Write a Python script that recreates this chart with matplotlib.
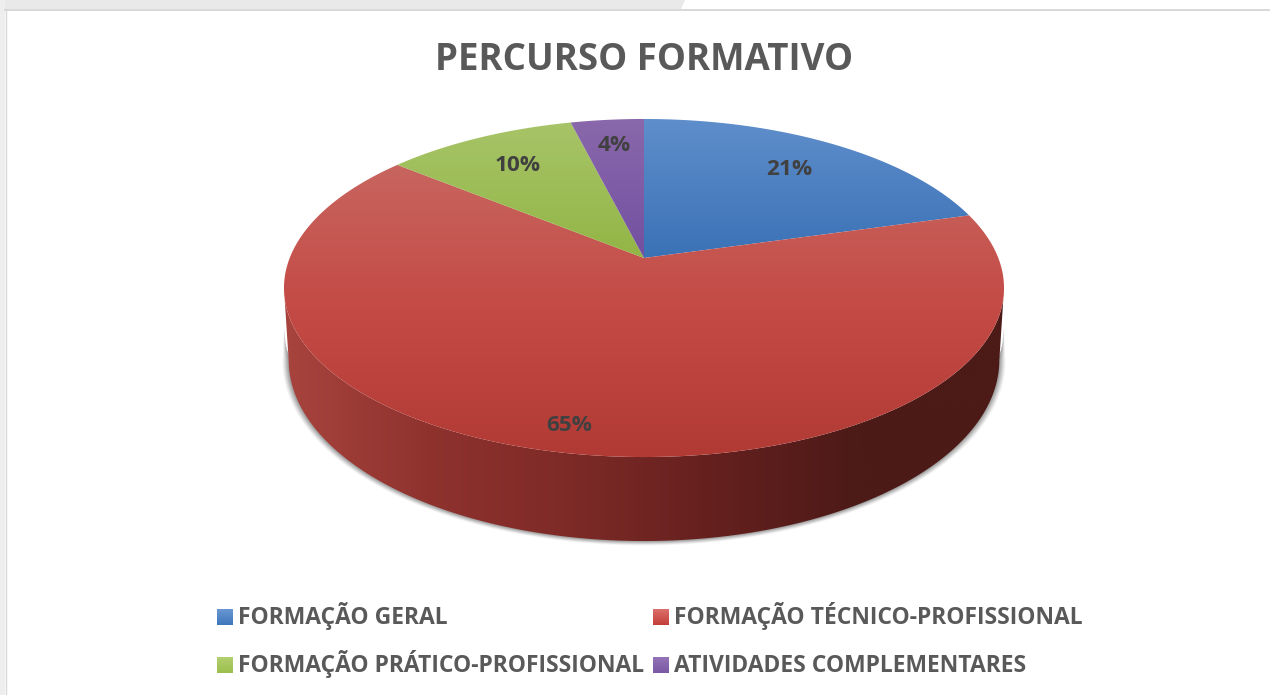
import numpy as np
import matplotlib
matplotlib.use("Agg")
import matplotlib.pyplot as plt
from matplotlib.colors import LinearSegmentedColormap
from matplotlib.patches import Polygon, Rectangle

plt.rcParams["font.family"] = ["Open Sans", "DejaVu Sans"]

# data
title = "PERCURSO FORMATIVO"
categories = ["FORMAÇÃO GERAL", "FORMAÇÃO TÉCNICO-PROFISSIONAL",
              "FORMAÇÃO PRÁTICO-PROFISSIONAL", "ATIVIDADES COMPLEMENTARES"]
values = [20.6, 65.3, 10.2, 3.9]

# styles
slice_top = ["#5f8ecb", "#c8655f", "#a7c468", "#8a68ab"]
slice_mid = ["#4d80c1", "#c44a45", "#9dbd57", "#7f5ca6"]
slice_bottom = ["#3a72b6", "#b23a35", "#92b545", "#7350a0"]
legend_top = ["#6a98d4", "#dc706b", "#b2d070", "#9474b8"]
legend_bottom = ["#3e76ba", "#c23e38", "#9cbe4c", "#7b58a4"]
wall_stops = ["#a8443e", "#8f322e", "#7d2a27", "#64201e", "#4c1a17", "#4c1a17"]
label_radius = [0.75, 0.885, 0.74, 0.79]

# pie geometry in pixels: perspective view of a disc
cx, cy = 644, 258
A, B, k = 354.3, 163.7, 0.1775
rim_mid = 288
base_mid, base_scale_x, base_scale_y = 360, 0.987, 1.071


def project(theta, r=1.0):
    # theta in radians, clockwise from the top of the pie
    u = r * np.sin(theta)
    v = -r * np.cos(theta)
    d = 1 - k * v
    return cx + A * u / d, cy + B * v / d


def to_base(x, y, grow=0.0):
    return cx + (x - cx) * (base_scale_x + grow), base_mid + (y - rim_mid) * (base_scale_y + grow)


def gradient(ax, extent, stops, clip, horizontal=False, z=2):
    cmap = LinearSegmentedColormap.from_list("g", stops)
    g = np.linspace(0, 1, 256)
    g = g[None, :] if horizontal else g[:, None]
    im = ax.imshow(g, extent=extent, cmap=cmap, aspect="auto", origin="upper",
                   interpolation="bilinear", zorder=z)
    im.set_clip_path(clip)


fig = plt.figure(figsize=(12.7, 6.95), dpi=100)
ax = fig.add_axes([0, 0, 1, 1])
ax.set_axis_off()

# window chrome round the slide
ax.add_patch(Polygon([(0, 0), (685, 0), (681, 9), (0, 9)], fc="#e9e9e9", ec="none", zorder=1))
ax.add_patch(Rectangle((0, 0), 5, 695, fc="#eeeeee", ec="none", zorder=1))
ax.plot([5, 1270], [9.5, 9.5], color="#d2d2d2", lw=1.2, zorder=1)
ax.plot([5.5, 5.5], [9, 695], color="#d8d8d8", lw=1.0, zorder=1)

ax.text(644, 70.5, title, ha="center", va="baseline", fontsize=26.4, fontweight="bold",
        color="#595959", zorder=6)

# near arc of the rim, between its widest points left and right
t = np.linspace(0, 2 * np.pi, 1440)
x_top, y_top = project(t)
near = np.linspace(t[np.argmax(x_top)], t[np.argmin(x_top)], 500)
xn, yn = project(near)

# soft shadow under the base
for off, alpha in zip([6, 5, 4, 3, 2, 1], [0.07, 0.10, 0.13, 0.17, 0.20, 0.24]):
    xb, yb = to_base(xn, yn, off / 350)
    ax.add_patch(Polygon(np.r_[np.c_[xn, yn + 40], np.c_[xb, yb + off * 0.25][::-1]],
                         fc="#707070", ec="none", alpha=alpha, zorder=2))

# side wall
xb, yb = to_base(xn, yn)
wall = np.r_[np.c_[xn, yn], np.c_[xb, yb][::-1]]
wall_patch = Polygon(wall, fc="none", ec="none", zorder=3)
ax.add_patch(wall_patch)
gradient(ax, (283, 1005, 545, 260), wall_stops, wall_patch, horizontal=True, z=3)

# top face
starts = np.cumsum([0] + values[:-1]) / sum(values) * 2 * np.pi
ends = np.cumsum(values) / sum(values) * 2 * np.pi
for i in range(len(values)):
    th = np.linspace(starts[i], ends[i], 300)
    xs, ys = project(th)
    pts = np.r_[[[cx, cy]], np.c_[xs, ys]]
    patch = Polygon(pts, fc="none", ec="none", zorder=4)
    ax.add_patch(patch)
    gradient(ax, (280, 1010, pts[:, 1].max(), pts[:, 1].min()),
             [slice_top[i], slice_mid[i], slice_bottom[i]], patch, z=4)
    mid = (starts[i] + ends[i]) / 2
    lx, ly = project(mid if mid < np.pi else mid - 2 * np.pi, label_radius[i])
    ax.text(lx, ly, f"{values[i]:.0f}%", ha="center", va="center", fontsize=16.2,
            fontweight="bold", color="#404040", zorder=6)

# legend
legend_x = [217, 653, 217, 653]
legend_y = [617, 617, 665, 665]
for i, name in enumerate(categories):
    x0, y0 = legend_x[i], legend_y[i]
    sq = Rectangle((x0, y0 - 8), 16, 16, fc="none", ec="none", zorder=5)
    ax.add_patch(sq)
    gradient(ax, (x0, x0 + 16, y0 + 8, y0 - 8), [legend_top[i], legend_bottom[i]], sq, z=5)
    ax.text(x0 + 21.5, y0 + 6.5, name, ha="left", va="baseline", fontsize=16.5,
            fontweight="bold", color="#595959", zorder=6)

ax.set_xlim(0, 1270)
ax.set_ylim(695, 0)
fig.savefig("out.png", dpi=100)
